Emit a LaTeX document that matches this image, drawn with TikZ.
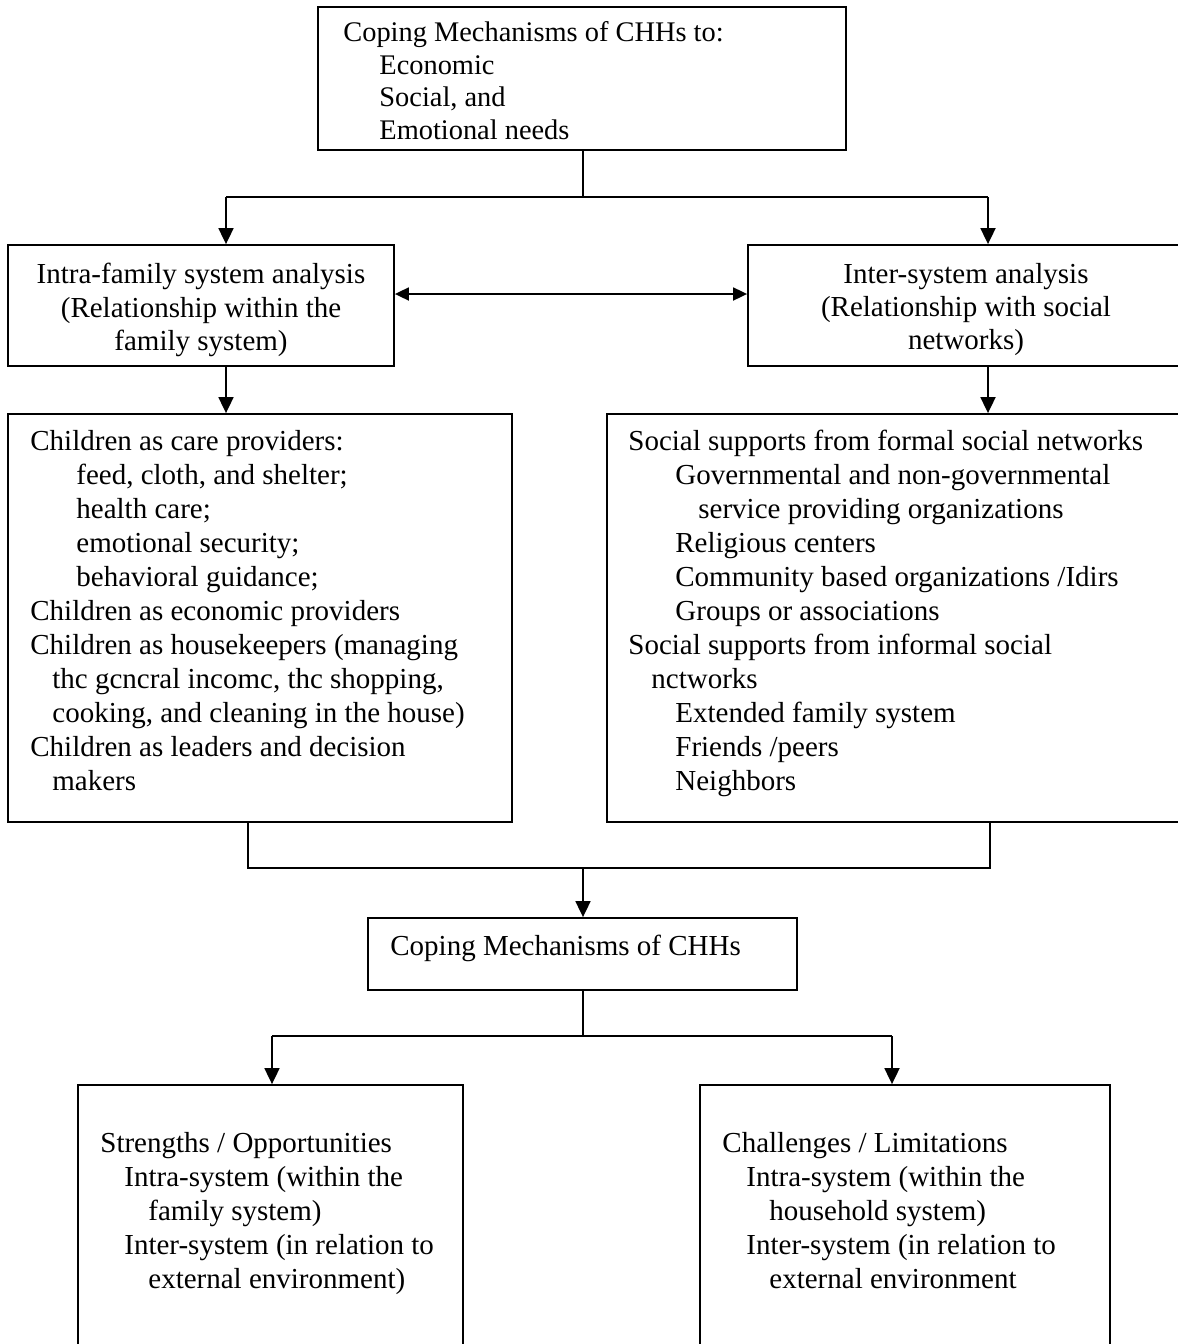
\documentclass[tikz,border=0pt]{standalone}
\usepackage{fontspec}
\setmainfont{Liberation Serif}
\usetikzlibrary{arrows.meta,fit}
\begin{document}
\begin{tikzpicture}[x=0.5pt,y=-0.5pt,
  box/.style={draw, line width=0.9pt, inner sep=0pt},
  txt/.style={inner sep=0pt, anchor=north west, align=left, font=\fontsize{14.5}{17}\selectfont},
  ctxt/.style={inner sep=0pt, anchor=north, align=center, font=\fontsize{14.5}{16.6}\selectfont},
  line/.style={line width=0.9pt},
  arr/.style={line width=0.9pt, -{Triangle[length=8pt,width=7.5pt]}},
  darr/.style={line width=0.9pt, {Triangle[length=7pt,width=6.5pt]}-{Triangle[length=7pt,width=6.5pt]}}
]
\useasboundingbox (0,0) rectangle (1178,1344);

% boxes
\node[box, fit={(318,7) (846,150)}] (top) {};
\node[box, fit={(8,245) (394,366)}] (intra) {};
\node[box, fit={(748,245) (1184,366)}] (inter) {};
\node[box, fit={(8,414) (512,822)}] (cleft) {};
\node[box, fit={(607,414) (1184,822)}] (cright) {};
\node[box, fit={(368,918) (797,990)}] (mid) {};
\node[box, fit={(78,1085) (463,1352)}] (bleft) {};
\node[box, fit={(700,1085) (1110,1352)}] (bright) {};

% texts
\node[txt, font=\fontsize{14.2}{16.4}\selectfont] (ttop) at (343,21) {Coping Mechanisms of CHHs to:\\
\hspace*{18pt}Economic\\
\hspace*{18pt}Social, and\\
\hspace*{18pt}Emotional needs};

\node[ctxt] (tintra) at (201,263) {Intra-family system analysis\\(Relationship within the\\family system)};
\node[ctxt] (tinter) at (966,263) {Inter-system analysis\\(Relationship with social\\networks)};

\node[txt] (tcleft) at (30,430) {Children as care providers:\\
\hspace*{23pt}feed, cloth, and shelter;\\
\hspace*{23pt}health care;\\
\hspace*{23pt}emotional security;\\
\hspace*{23pt}behavioral guidance;\\
Children as economic providers\\
Children as housekeepers (managing\\
\hspace*{11pt}thc gcncral incomc, thc shopping,\\
\hspace*{11pt}cooking, and cleaning in the house)\\
Children as leaders and decision\\
\hspace*{11pt}makers};

\node[txt] (tcright) at (628,430) {Social supports from formal social networks\\
\hspace*{23.5pt}Governmental and non-governmental\\
\hspace*{35pt}service providing organizations\\
\hspace*{23.5pt}Religious centers\\
\hspace*{23.5pt}Community based organizations /Idirs\\
\hspace*{23.5pt}Groups or associations\\
Social supports from informal social\\
\hspace*{11.5pt}nctworks\\
\hspace*{23.5pt}Extended family system\\
\hspace*{23.5pt}Friends /peers\\
\hspace*{23.5pt}Neighbors};

\node[txt] (tmid) at (390,935) {Coping Mechanisms of CHHs};

\node[txt] (tbleft) at (100,1132) {Strengths / Opportunities\\
\hspace*{12pt}Intra-system (within the\\
\hspace*{24pt}family system)\\
\hspace*{12pt}Inter-system (in relation to\\
\hspace*{24pt}external environment)};

\node[txt] (tbright) at (722,1132) {Challenges / Limitations\\
\hspace*{12pt}Intra-system (within the\\
\hspace*{23.5pt}household system)\\
\hspace*{12pt}Inter-system (in relation to\\
\hspace*{23.5pt}external environment};

% connectors
\coordinate (j1) at (583,197);
\coordinate (jl) at (226,197);
\coordinate (jr) at (988,197);
\draw[line] (j1 |- top.south) -- (j1);
\draw[line] (jl) -- (jr);
\draw[arr] (jl) -- (jl |- intra.north);
\draw[arr] (jr) -- (jr |- inter.north);

\coordinate (m1) at (0,294);
\draw[darr] (intra.east |- m1) -- (inter.west |- m1);

\draw[arr] (jl |- intra.south) -- (jl |- cleft.north);
\draw[arr] (jr |- inter.south) -- (jr |- cright.north);

\coordinate (kl) at (248,868);
\coordinate (kr) at (990,868);
\coordinate (km) at (583,868);
\draw[line] (kl |- cleft.south) -- (kl) -- (kr) -- (kr |- cright.south);
\draw[arr] (km) -- (km |- mid.north);

\coordinate (ll) at (272,1036);
\coordinate (lr) at (892,1036);
\coordinate (lm) at (583,1036);
\draw[line] (lm |- mid.south) -- (lm);
\draw[line] (ll) -- (lr);
\draw[arr] (ll) -- (ll |- bleft.north);
\draw[arr] (lr) -- (lr |- bright.north);
\end{tikzpicture}
\end{document}
